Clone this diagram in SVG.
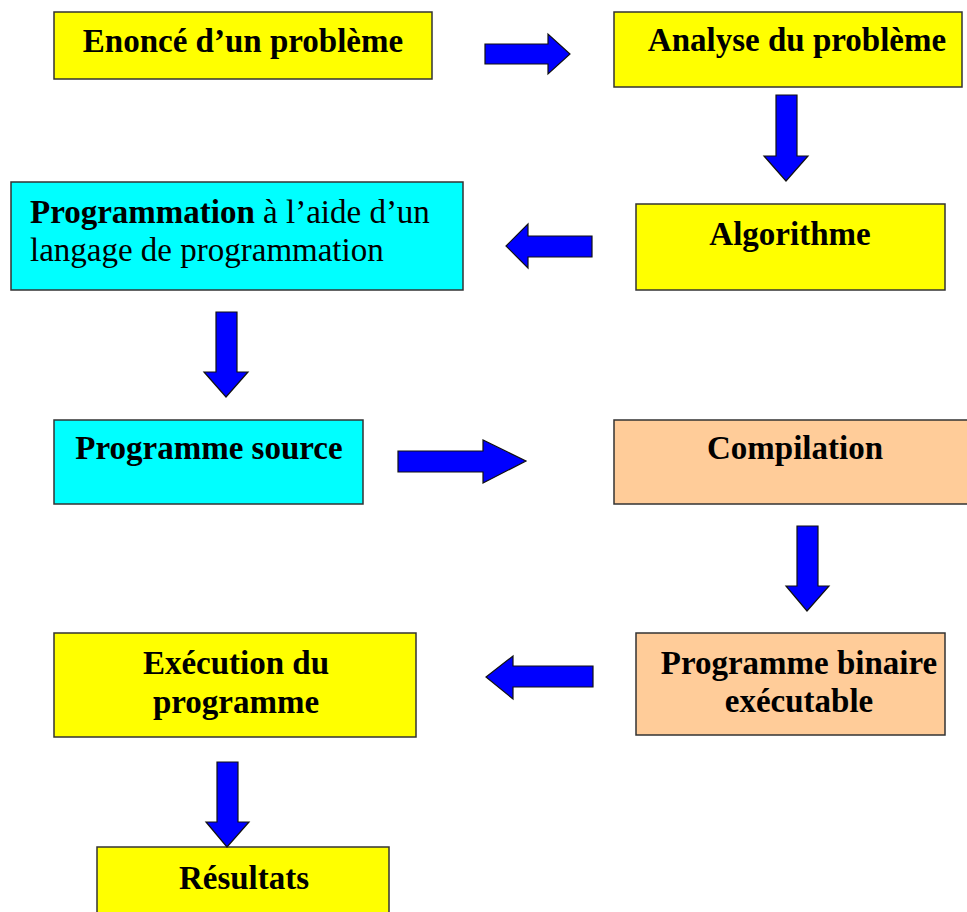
<svg xmlns="http://www.w3.org/2000/svg" width="967" height="912" viewBox="0 0 967 912">
<style>
.box{stroke:#333;stroke-width:1.5}
.y{fill:#FFFF00}
.c{fill:#00FFFF}
.p{fill:#FFCC99}
.t{font-family:"Liberation Serif","Times New Roman",serif;font-size:33px;font-weight:bold;fill:#000;text-anchor:middle}
.tn{font-family:"Liberation Serif","Times New Roman",serif;font-size:33px;fill:#000}
.ar{fill:#0000FF;stroke:#111;stroke-width:1.2;stroke-linejoin:miter}
</style>
<rect width="967" height="912" fill="#fff"/>
<g id="n1"><rect class="box y" x="54" y="12" width="378" height="67"/><text class="t" x="243" y="52">Enoncé d’un problème</text></g>
<g id="n2"><rect class="box y" x="614" y="12" width="348" height="75"/><text class="t" x="797" y="51">Analyse du problème</text></g>
<g id="n3"><rect class="box y" x="636" y="204" width="309" height="86"/><text class="t" x="790" y="245">Algorithme</text></g>
<g id="n4"><rect class="box c" x="11" y="182" width="452" height="108"/><text class="tn" x="30" y="223"><tspan font-weight="bold">Programmation</tspan> à l’aide d’un</text><text class="tn" x="30" y="261">langage de programmation</text></g>
<g id="n5"><rect class="box c" x="54" y="420" width="309" height="84"/><text class="t" x="209" y="459">Programme source</text></g>
<g id="n6"><rect class="box p" x="614" y="420" width="360" height="84"/><text class="t" x="795" y="459">Compilation</text></g>
<g id="n7"><rect class="box p" x="636" y="633" width="309" height="102"/><text class="t" x="799" y="674">Programme binaire</text><text class="t" x="799" y="712">exécutable</text></g>
<g id="n8"><rect class="box y" x="54" y="633" width="362" height="104"/><text class="t" x="236" y="674">Exécution du</text><text class="t" x="236" y="713">programme</text></g>
<g id="n9"><rect class="box y" x="97" y="847" width="292" height="70"/><text class="t" x="244" y="889">Résultats</text></g>
<g id="connectors">
<polygon class="ar" points="485,44 548,44 548,34 570,54 548,74 548,64 485,64"/>
<polygon class="ar" points="776,95 797,95 797,156 808,156 786,181 764,156 776,156"/>
<polygon class="ar" points="592,236 528,236 528,224 506,246 528,268 528,257 592,257"/>
<polygon class="ar" points="216,312 237,312 237,372 248,372 226,397 204,372 216,372"/>
<polygon class="ar" points="398,451 483,451 483,440 526,461 483,483 483,472 398,472"/>
<polygon class="ar" points="797,526 818,526 818,586 829,586 807,611 786,586 797,586"/>
<polygon class="ar" points="593,666 513,666 513,656 486,677 513,699 513,687 593,687"/>
<polygon class="ar" points="217,762 238,762 238,822 249,822 227,847 206,822 217,822"/>
</g>
</svg>
